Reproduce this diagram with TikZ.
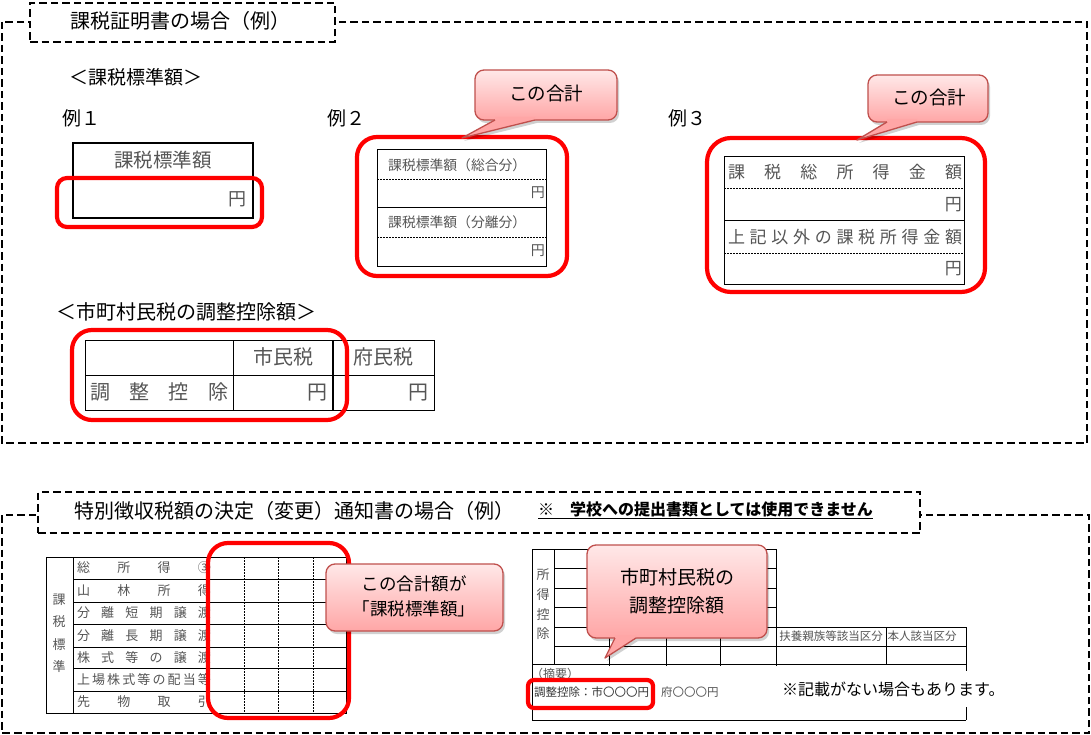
\documentclass[tikz,border=0pt]{standalone}
\usepackage{fontspec}
\setmainfont{Noto Sans CJK JP}
\usetikzlibrary{calc}
\definecolor{pinktop}{HTML}{FFE8E8}
\definecolor{pinkbot}{HTML}{FFA6A6}
\definecolor{bubbleborder}{HTML}{C0504D}
\definecolor{txtgray}{HTML}{555555}
\definecolor{redline}{HTML}{FF0000}
\tikzset{
 dframe/.style={draw=black, line width=1.9pt, dash pattern=on 7.5pt off 4pt},
 tline/.style={line width=1pt},
 dotl/.style={line width=0.9pt, dash pattern=on 1.6pt off 1.4pt},
 redbox/.style={draw=redline, line width=4.2pt},
 bubble/.style={top color=pinktop, bottom color=pinkbot, draw=bubbleborder, line width=1.3pt, rounded corners=9pt},
 shade/.style={fill=black, opacity=0.18},
 lbl/.style={inner sep=0pt, font=\fontsize{#1}{#1}\selectfont},
}
\newcommand{\bubblerect}[4]{%
 \fill[shade, rounded corners=9pt] (#1+2,#2+3) rectangle (#3+2,#4+3);
 \draw[bubble] (#1,#2) rectangle (#3,#4);}
\newcommand{\bubbleshadowtip}[5]{%
 \fill[shade] (#1+2,#3+3) -- (#4+2,#5+3) -- (#2+2,#3+3) -- cycle;}
\newcommand{\bubbletip}[5]{%
 \fill[pinkbot] (#1,#3-3) -- (#1,#3) -- (#4,#5) -- (#2,#3) -- (#2,#3-3) -- cycle;
 \draw[bubbleborder, line width=1.3pt, line join=round] (#1,#3) -- (#4,#5) -- (#2,#3);}
\begin{document}
\begin{tikzpicture}[x=1pt,y=-1pt]
\useasboundingbox (0,0) rectangle (1091,735);
\fill[white] (0,0) rectangle (1091,735);

% ===== top section =====
\draw[dframe] (2,22) rectangle (1087,443);
\node[dframe, fill=white, minimum width=305pt, minimum height=39pt] (t1box) at (182.5,22.5) {};
\node[lbl=20] (t1) at (180,21) {課税証明書の場合（例）};

\node[lbl=19, anchor=west] (h1) at (69,77) {＜課税標準額＞};
\node[lbl=19, anchor=west] (ex1) at (62,118) {例１};
\node[lbl=19, anchor=west] (ex2) at (327,118) {例２};
\node[lbl=19, anchor=west] (ex3) at (668,118) {例３};

% example 1
\node[draw, line width=1.6pt, minimum width=180pt, minimum height=75pt, inner sep=0pt] (e1box) at (163,180.5) {};
\node[lbl=19.5, txtgray] (e1head) at (163,160) {課税標準額};
\node[lbl=18, txtgray, anchor=east] (e1yen) at (247,199) {円};
\draw[redbox, rounded corners=10pt] (57,178) rectangle (262,227);

% example 2
\draw[tline] (377,150) rectangle (546,266);
\draw[dotl] (377,179) -- (546,179);
\draw[tline] (377,208) -- (546,208);
\draw[dotl] (377,237) -- (546,237);
\node[lbl=13.8, txtgray, anchor=west] (e2a) at (388,165) {課税標準額（総合分）};
\node[lbl=14, txtgray, anchor=east] (e2ay) at (545,193) {円};
\node[lbl=13.8, txtgray, anchor=west] (e2b) at (388,222) {課税標準額（分離分）};
\node[lbl=14, txtgray, anchor=east] (e2by) at (545,251) {円};
\draw[redbox, rounded corners=20pt] (357,137) rectangle (567,276);

% example 3
\draw[tline] (724,157) rectangle (964,284);
\draw[dotl] (724,188) -- (964,188);
\draw[tline] (724,221) -- (964,221);
\draw[dotl] (724,253) -- (964,253);
\node[lbl=17, txtgray] (e3a) at (845,172) {\makebox[234pt][s]{課\hfill 税\hfill 総\hfill 所\hfill 得\hfill 金\hfill 額}};
\node[lbl=17, txtgray, anchor=east] (e3ay) at (962,205) {円};
\node[lbl=17, txtgray] (e3b) at (845,237) {\makebox[234pt][s]{上\hfill 記\hfill 以\hfill 外\hfill の\hfill 課\hfill 税\hfill 所\hfill 得\hfill 金\hfill 額}};
\node[lbl=17, txtgray, anchor=east] (e3by) at (962,269) {円};
\draw[redbox, rounded corners=24pt] (707,138) rectangle (985,292);

% callouts A and B
\bubbleshadowtip{495}{535}{120}{462}{138}
\bubblerect{475}{70}{617}{120}
\bubbletip{495}{535}{120}{462}{138}
\node[lbl=18.5] (ca) at (546,94) {この合計};

\bubbleshadowtip{887}{917}{122}{857}{140}
\bubblerect{868}{75}{988}{122}
\bubbletip{887}{917}{122}{857}{140}
\node[lbl=18.5] (cb) at (929,98) {この合計};

% adjustment table
\node[lbl=20, anchor=west] (h2) at (56,312) {＜市町村民税の調整控除額＞};
\draw[tline] (85,340) rectangle (434,410);
\draw[tline] (85,375) -- (434,375);
\draw[tline] (233,340) -- (233,410);
\draw[line width=2.2pt] (333,340) -- (333,410);
\node[lbl=20, txtgray] (shi) at (283,357) {市民税};
\node[lbl=20, txtgray] (fu) at (383,357) {府民税};
\node[lbl=20, txtgray] (chosei) at (159,392) {\makebox[138pt][s]{調\hfill 整\hfill 控\hfill 除}};
\node[lbl=20, txtgray, anchor=east] (y1) at (328,393) {円};
\node[lbl=20, txtgray, anchor=east] (y2) at (429,393) {円};
\draw[redbox, rounded corners=20pt] (72,330) rectangle (347,420);

% ===== bottom section =====
\draw[dframe] (2,515) rectangle (1089,733);
\node[dframe, fill=white, minimum width=882pt, minimum height=41pt] (t2box) at (479,512.5) {};
\node[lbl=20, anchor=west] (t2) at (74,511) {特別徴収税額の決定（変更）通知書の場合（例）};
\node[inner sep=0pt, anchor=west, font=\fontsize{16}{16}\selectfont\bfseries] (t2note) at (538,510) {\underline{※　学校への提出書類としては使用できません}};

% bottom-left table
\draw[tline] (46,557) rectangle (346,713);
\draw[tline] (73,557) -- (73,713);
\foreach \yy in {579,602,624,647,668,691} \draw[tline] (73,\yy) -- (346,\yy);
\foreach \xx in {244,278,313} \draw[dotl] (\xx,557) -- (\xx,713);
\foreach \ch/\yy [count=\i] in {課/600,税/622,標/645,準/667}
  \node[lbl=13, txtgray] (kz\i) at (59,\yy) {\ch};
\node[lbl=13, txtgray] (r1) at (144,568) {\makebox[134pt][s]{総\hfill 所\hfill 得\hfill ③}};
\node[lbl=13, txtgray] (r2) at (144,590.5) {\makebox[134pt][s]{山\hfill 林\hfill 所\hfill 得}};
\node[lbl=13, txtgray] (r3) at (144,613) {\makebox[134pt][s]{分\hfill 離\hfill 短\hfill 期\hfill 譲\hfill 渡}};
\node[lbl=13, txtgray] (r4) at (144,635.5) {\makebox[134pt][s]{分\hfill 離\hfill 長\hfill 期\hfill 譲\hfill 渡}};
\node[lbl=13, txtgray] (r5) at (144,657.5) {\makebox[134pt][s]{株\hfill 式\hfill 等\hfill の\hfill 譲\hfill 渡}};
\node[lbl=13, txtgray] (r6) at (144,679.5) {\makebox[134pt][s]{上\hfill 場\hfill 株\hfill 式\hfill 等\hfill の\hfill 配\hfill 当\hfill 等}};
\node[lbl=13, txtgray] (r7) at (144,702) {\makebox[134pt][s]{先\hfill 物\hfill 取\hfill 引}};
\draw[redbox, rounded corners=20pt] (208,543) rectangle (349,718);

% callout C
\bubblerect{326}{564}{503}{631}
\node[inner sep=0pt, align=center, font=\fontsize{17.5}{25}\selectfont] (cc) at (414,596) {この合計額が\\「課税標準額」};

% bottom-right table
\draw[tline] (532,549) -- (776,549);
\draw[tline] (532,549) -- (532,720);
\draw[tline] (554,549) -- (554,664);
\draw[tline] (776,549) -- (776,666);
\foreach \yy in {568,588,607} \draw[tline] (554,\yy) -- (776,\yy);
\draw[tline] (554,627) -- (966,627);
\draw[tline] (554,646) -- (966,646);
\draw[tline] (532,664) -- (966,664);
\draw[tline] (532,720) -- (966,720);
\draw[tline] (886,627) -- (886,664);
\draw[tline] (966,627) -- (966,720);
\foreach \xx in {609,666,720} \draw[tline] (\xx,627) -- (\xx,666);
\foreach \ch/\yy [count=\i] in {所/575,得/595,控/615,除/634}
  \node[lbl=13, txtgray] (sk\i) at (543,\yy) {\ch};
\node[lbl=11.5, txtgray] (fuyo) at (831,636) {扶養親族等該当区分};
\node[lbl=11.5, txtgray] (honnin) at (922,636) {本人該当区分};
\node[lbl=12, txtgray, anchor=west] (tekiyo) at (531,674) {（摘要）};
\node[lbl=11.5, black!80, anchor=west] (chk) at (534,692) {調整控除：市〇〇〇円};
\node[lbl=11.5, txtgray, anchor=west] (fuk) at (661,692) {府〇〇〇円};
\draw[redbox, rounded corners=6pt] (528,680) rectangle (653,708);
\node[fill=white, inner xsep=2pt, inner ysep=11pt, anchor=west, font=\fontsize{16}{16}\selectfont] (note) at (780,689) {※記載がない場合もあります。};

% callout D
\bubbleshadowtip{615}{636}{638}{605}{658}
\bubblerect{587}{545}{767}{638}
\bubbletip{615}{636}{638}{605}{658}
\node[inner sep=0pt, align=center, font=\fontsize{19}{28}\selectfont] (cd) at (677,591) {市町村民税の\\調整控除額};
\end{tikzpicture}
\end{document}
